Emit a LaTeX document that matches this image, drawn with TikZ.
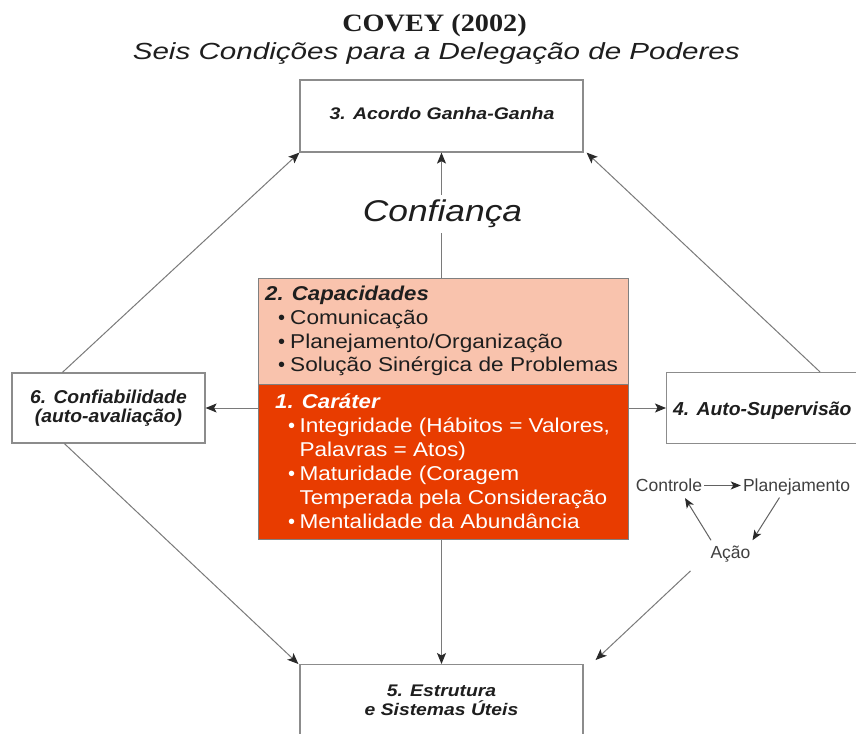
\documentclass[tikz,border=0pt]{standalone}
\usepackage{fontspec}
\usepackage{graphicx}
\setmainfont{Liberation Serif}
\setsansfont{Liberation Sans}
\usetikzlibrary{arrows.meta}

\definecolor{boxgray}{HTML}{8C8C8C}
\definecolor{linegray}{HTML}{7A7A7A}
\definecolor{tipdark}{HTML}{2A2A2A}
\definecolor{textdark}{HTML}{1E1E1E}
\definecolor{capfill}{HTML}{F9C3AD}
\definecolor{carfill}{HTML}{E83C00}
\definecolor{centerframe}{HTML}{808080}

% font size in pt, and horizontal widening of a text
\newcommand{\fs}[1]{\fontsize{#1}{#1}\selectfont}
\newcommand{\hs}[2]{\scalebox{#1}[1]{#2}}
\newcommand{\bulA}{\makebox[12pt][l]{•}}
\newcommand{\bulB}{\makebox[11.3pt][l]{•}}

\begin{document}
\begin{tikzpicture}[x=1pt,y=-1pt,
  box/.style={draw=boxgray, line width=1.2pt, fill=white, inner sep=0pt},
  centerbox/.style={draw=centerframe, line width=0.9pt, inner sep=0pt, anchor=north west},
  arr/.style={draw=linegray, line width=1pt, -{Stealth[length=11pt,width=9pt,inset=2.5pt,color=tipdark]}},
  smallarr/.style={draw=linegray!80!black, line width=1pt, -{Stealth[length=10pt,width=8pt,inset=2.5pt,color=tipdark]}},
  lbl/.style={inner sep=0pt, anchor=base, text=textdark, font=\sffamily},
  ltext/.style={inner sep=0pt, anchor=base west, font=\sffamily\fs{20}},
]
\clip (0,0) rectangle (856,733);
\fill[white] (0,0) rectangle (856,733);

% title
\node[inner sep=0pt, anchor=base, text=textdark] (titulo) at (434.5,31.7)
  {\fs{25}\hs{1.13}{\bfseries COVEY (2002)}};
\node[lbl] (subtitulo) at (436.3,60)
  {\fs{23.3}\hs{1.27}{\itshape Seis Condições para a Delegação de Poderes}};

% outer boxes
\node[box, minimum width=283pt, minimum height=72pt] (acordo) at (441.5,116) {};
\node[box, minimum width=193pt, minimum height=70pt] (confiab) at (108.5,408) {};
\node[box, minimum width=210pt, minimum height=71pt, anchor=west] (autosup) at (666,408) {};
\node[box, minimum width=283pt, minimum height=100pt, anchor=north] (estrut) at (441.5,664) {};

% central boxes
\node[centerbox, fill=capfill, minimum width=370pt, minimum height=106pt] (capac) at (258,278) {};
\node[centerbox, fill=carfill, minimum width=370pt, minimum height=155pt] (carater) at (258,384) {};

% connectors
\draw[arr] (capac.north -| acordo.south) -- (acordo.south);
\node[lbl, fill=white, inner ysep=5pt, inner xsep=2pt] (confianca) at (442.5,221.7)
  {\fs{30}\hs{1.18}{\itshape Confiança}};
\draw[arr] ([xshift=51pt]confiab.north west) -- (acordo.south west);
\draw[arr] ([xshift=154pt]autosup.north west) -- ([xshift=3pt]acordo.south east);
\draw[arr] ([yshift=-24pt]carater.north west) -- (confiab.east);
\draw[arr] ([yshift=-24pt]carater.north east) -- (autosup.west);
\draw[arr] (carater.south -| estrut.north) -- (estrut.north);
\draw[arr] ([xshift=53pt]confiab.south west) -- ([xshift=-1pt]estrut.north west);

% box labels
\node[lbl] (t3) at (442,120) {\fs{16.8}\hs{1.16}{\bfseries\itshape 3. Acordo Ganha-Ganha}};
\node[lbl] (t6a) at (108.5,403.3) {\fs{18.6}\hs{1.04}{\bfseries\itshape 6. Confiabilidade}};
\node[lbl] (t6b) at (108.5,422.5) {\fs{18.6}\hs{1.04}{\bfseries\itshape (auto-avaliação)}};
\node[lbl, anchor=base west] (t4) at (673,415) {\fs{18.8}\hs{1.03}{\bfseries\itshape 4. Auto-Supervisão}};
\node[lbl] (t5a) at (441.5,696) {\fs{16.8}\hs{1.15}{\bfseries\itshape 5. Estrutura}};
\node[lbl] (t5b) at (441.5,715) {\fs{16.8}\hs{1.15}{\bfseries\itshape e Sistemas Úteis}};

% capacities
\node[ltext, text=textdark] (c0) at (265,300) {\hs{1.11}{\bfseries\itshape 2. Capacidades}};
\node[ltext, text=textdark] (c1) at (278,324) {\bulA\hs{1.13}{Comunicação}};
\node[ltext, text=textdark] (c2) at (278,348) {\bulA\hs{1.13}{Planejamento/Organização}};
\node[ltext, text=textdark] (c3) at (278,371.5) {\bulA\hs{1.13}{Solução Sinérgica de Problemas}};

% character
\node[ltext, text=white] (k0) at (275,408.3) {\hs{1.11}{\bfseries\itshape 1. Caráter}};
\node[ltext, text=white] (k1) at (288,432.3) {\bulB\hs{1.13}{Integridade (Hábitos = Valores,}};
\node[ltext, text=white] (k2) at (299.3,456.5) {\hs{1.13}{Palavras = Atos)}};
\node[ltext, text=white] (k3) at (288,480.5) {\bulB\hs{1.13}{Maturidade (Coragem}};
\node[ltext, text=white] (k4) at (299.3,504.3) {\hs{1.13}{Temperada pela Consideração}};
\node[ltext, text=white] (k5) at (288,528.3) {\bulB\hs{1.13}{Mentalidade da Abundância}};

% control cycle
\node[lbl, font=\sffamily\fs{17.5}, text=textdark!85] (controle) at (669,491.7) {Controle};
\node[lbl, font=\sffamily\fs{17.5}, text=textdark!85] (planej) at (796.5,491.7) {Planejamento};
\node[lbl, font=\sffamily\fs{17.5}, text=textdark!85] (acao) at (730.5,558) {Ação};
\draw[smallarr, shorten <=2pt, shorten >=2pt] (controle.east) -- (controle.east -| planej.west);
\draw[smallarr] ([xshift=-17pt,yshift=-2pt]planej.south) -- ([xshift=22pt,yshift=5pt]acao.north);
\draw[smallarr] ([xshift=-19.5pt,yshift=5pt]acao.north) -- ([xshift=16pt,yshift=-6pt]controle.south);
\draw[arr] ([xshift=-40pt,yshift=-9pt]acao.south) -- ([xshift=12pt,yshift=4pt]estrut.north east);
\end{tikzpicture}
\end{document}
